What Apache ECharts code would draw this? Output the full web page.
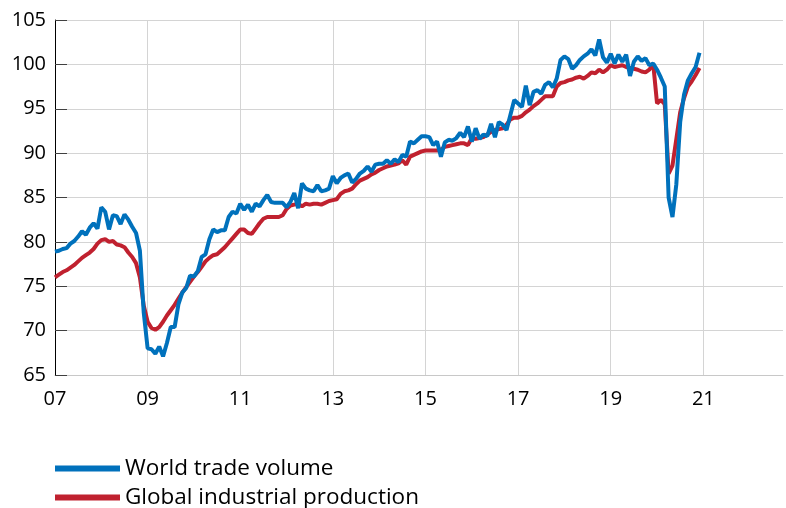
<!DOCTYPE html>
<html>
<head>
<meta charset="utf-8">
<script src="https://cdn.jsdelivr.net/npm/echarts@6/dist/echarts.min.js"></script>
<style>
  html, body { margin: 0; padding: 0; background: #fff; }
  #chart { width: 786px; height: 508px; }
</style>
</head>
<body>
<div id="chart"></div>
<script>
// monthly index values, Jan 2007 .. Dec 2020
const startYear = 2007
const tickYears = [2007, 2009, 2011, 2013, 2015, 2017, 2019, 2021]
const tickLabels = ['07', '09', '11', '13', '15', '17', '19', '21']

const tradeVolume = [
  78.9, 79.0, 79.2, 79.3, 79.8, 80.1, 80.6, 81.2, 80.8, 81.6, 82.1, 81.5, // 2007
  83.9, 83.4, 81.4, 83.0, 82.9, 82.0, 83.1, 82.5, 81.7, 81.0, 79.0, 72.0, // 2008
  68.0, 67.9, 67.4, 68.2, 67.1, 68.6, 70.4, 70.4, 73.0, 74.3, 74.8, 76.2, // 2009
  76.1, 76.7, 78.3, 78.6, 80.3, 81.4, 81.1, 81.3, 81.3, 82.8, 83.4, 83.2, // 2010
  84.3, 83.6, 84.2, 83.4, 84.3, 84.0, 84.7, 85.3, 84.5, 84.4, 84.4, 84.4, // 2011
  83.9, 84.5, 85.5, 83.8, 86.6, 86.0, 85.8, 85.7, 86.4, 85.7, 85.8, 86.0, // 2012
  87.4, 86.6, 87.2, 87.5, 87.7, 86.7, 87.1, 87.7, 88.0, 88.5, 87.9, 88.7, // 2013
  88.8, 88.8, 89.2, 88.8, 89.3, 89.0, 89.8, 89.6, 91.3, 91.1, 91.5, 91.9, // 2014
  91.9, 91.8, 90.9, 91.3, 89.6, 91.2, 91.5, 91.4, 91.7, 92.3, 91.8, 93.0, // 2015
  91.3, 92.8, 91.6, 92.1, 91.9, 93.3, 91.8, 93.5, 93.2, 92.6, 94.3, 96.0, // 2016
  95.6, 95.2, 97.6, 95.4, 96.9, 97.1, 96.7, 97.7, 98.0, 97.4, 98.4, 100.5, // 2017
  100.9, 100.6, 99.5, 99.9, 100.5, 100.9, 101.2, 101.7, 101.0, 102.8, 100.8, 100.2, // 2018
  101.2, 100.1, 101.1, 100.3, 101.1, 98.7, 100.3, 100.9, 100.4, 100.7, 99.9, 100.1, // 2019
  99.4, 98.5, 97.5, 85.0, 82.8, 86.5, 93.5, 96.6, 98.2, 99.0, 99.7, 101.3  // 2020
]

const industrialProduction = [
  76.0, 76.3, 76.6, 76.8, 77.1, 77.4, 77.8, 78.2, 78.5, 78.8, 79.2, 79.8, // 2007
  80.2, 80.3, 80.0, 80.1, 79.7, 79.6, 79.4, 78.8, 78.3, 77.6, 76.0, 72.8, // 2008
  71.0, 70.3, 70.1, 70.4, 71.0, 71.7, 72.3, 72.9, 73.6, 74.3, 74.9, 75.5, // 2009
  76.1, 76.6, 77.2, 77.8, 78.2, 78.5, 78.6, 79.0, 79.4, 79.9, 80.4, 80.9, // 2010
  81.4, 81.4, 81.0, 80.9, 81.5, 82.1, 82.6, 82.8, 82.8, 82.8, 82.8, 83.0, // 2011
  83.7, 84.1, 84.2, 84.3, 84.0, 84.3, 84.2, 84.3, 84.3, 84.2, 84.4, 84.6, // 2012
  84.7, 84.8, 85.4, 85.7, 85.8, 86.0, 86.5, 86.9, 87.1, 87.3, 87.6, 87.8, // 2013
  88.1, 88.3, 88.5, 88.6, 88.7, 88.85, 89.2, 88.7, 89.6, 89.8, 90.0, 90.2, // 2014
  90.3, 90.3, 90.3, 90.3, 90.4, 90.7, 90.8, 90.9, 91.0, 91.1, 91.1, 90.9, // 2015
  91.7, 91.6, 91.7, 91.8, 92.1, 92.4, 92.6, 92.7, 92.8, 93.2, 93.8, 94.0, // 2016
  94.0, 94.2, 94.6, 94.9, 95.3, 95.6, 96.0, 96.4, 96.4, 96.4, 97.5, 97.9, // 2017
  98.0, 98.2, 98.3, 98.5, 98.6, 98.4, 98.7, 99.1, 99.0, 99.4, 99.1, 99.4, // 2018
  99.9, 99.7, 99.8, 99.9, 99.7, 99.6, 99.5, 99.4, 99.2, 99.1, 99.4, 100.1, // 2019
  95.6, 96.0, 95.5, 87.7, 88.6, 91.6, 94.6, 96.2, 97.5, 98.1, 98.8, 99.6  // 2020
]

const toPoints = values => values.map((v, i) => [startYear + i / 12, v])

const chart = echarts.init(document.getElementById('chart'))

// one legend per row so the two entries stack like the original
const legendRow = (name, top) => ({
  orient: 'horizontal',
  left: 55,
  top: top,
  padding: 0,
  icon: 'rect',
  itemWidth: 65,
  itemHeight: 6,
  selectedMode: false,
  textStyle: { fontSize: 22.5, color: '#000', fontFamily: 'Open Sans' },
  data: [name]
})

const option = {
  animation: false,
  textStyle: { fontFamily: 'Open Sans', color: '#000' },
  grid: { left: 55, right: 3, top: 20, bottom: 133 },
  legend: [
    legendRow('World trade volume', 457),
    legendRow('Global industrial production', 486)
  ],
  xAxis: {
    type: 'value',
    min: 2007,
    max: 2022.72,
    interval: 2,
    axisLine: { lineStyle: { color: '#c8c8c8', width: 1 } },
    axisTick: { show: false },
    axisLabel: {
      fontSize: 20,
      color: '#000',
      margin: 14,
      showMaxLabel: false,
      formatter: (v) => {
        const idx = tickYears.indexOf(Math.round(v))
        return idx >= 0 && Math.abs(v - tickYears[idx]) < 1e-6 ? tickLabels[idx] : ''
      }
    },
    splitLine: {
      show: true,
      showMinLine: false,
      showMaxLine: false,
      lineStyle: { color: '#d4d4d4', width: 1 }
    }
  },
  yAxis: {
    type: 'value',
    min: 65,
    max: 105,
    interval: 5,
    axisLine: { show: true, lineStyle: { color: '#000', width: 1 } },
    axisTick: { show: true, inside: true, length: 12, lineStyle: { color: '#404040', width: 1 } },
    axisLabel: { fontSize: 20, color: '#000', margin: 9 },
    splitLine: { lineStyle: { color: '#d4d4d4', width: 1 } }
  },
  series: [
    {
      name: 'Global industrial production',
      type: 'line',
      data: toPoints(industrialProduction),
      showSymbol: false,
      itemStyle: { color: '#c0212f' },
      lineStyle: { color: '#c0212f', width: 4 }
    },
    {
      name: 'World trade volume',
      type: 'line',
      data: toPoints(tradeVolume),
      showSymbol: false,
      itemStyle: { color: '#0071bc' },
      lineStyle: { color: '#0071bc', width: 4 }
    }
  ]
}

chart.setOption(option)
window.addEventListener('resize', () => chart.resize())
</script>
</body>
</html>
